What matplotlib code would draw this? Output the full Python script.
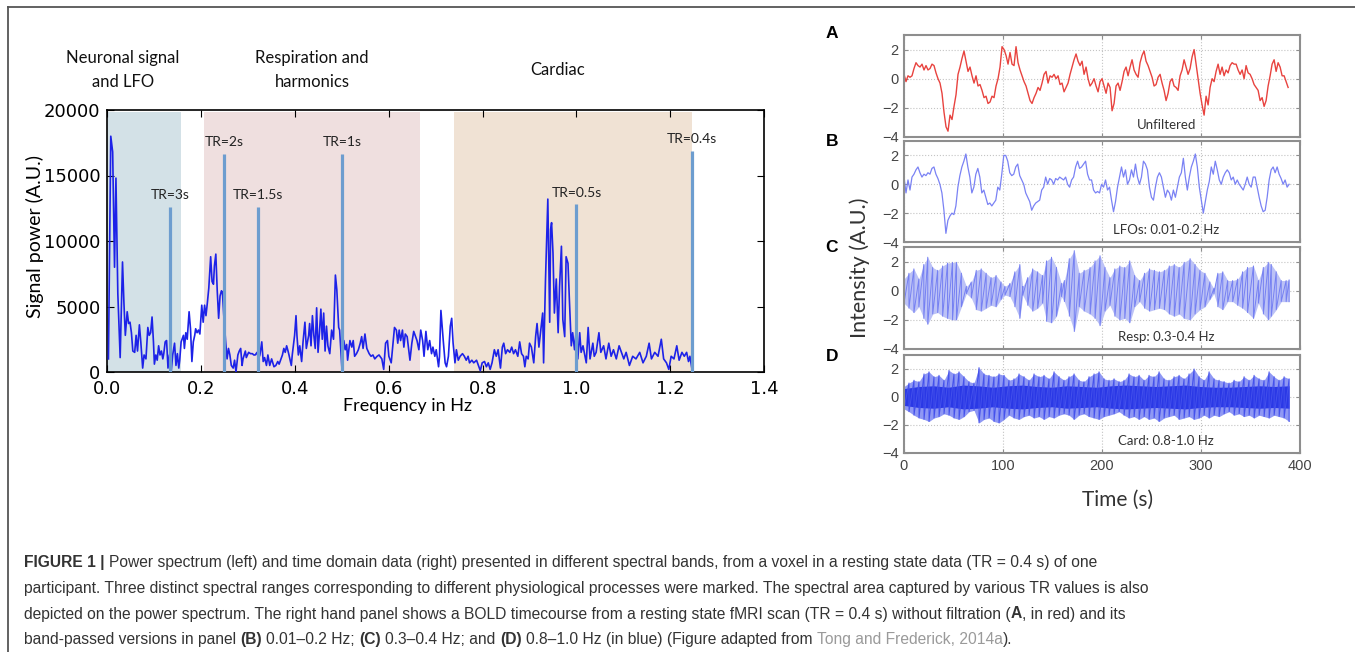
import numpy as np
import matplotlib.pyplot as plt
from matplotlib.lines import Line2D

# ---------------- data: power spectrum (left) ----------------
spec_freq = [0.002, 0.007, 0.011, 0.015, 0.018, 0.022, 0.027, 0.032, 0.035, 0.038,
             0.042, 0.045, 0.048, 0.051, 0.054, 0.058, 0.061, 0.064, 0.068, 0.071,
             0.075, 0.078, 0.082, 0.086, 0.089, 0.092, 0.095, 0.098, 0.100, 0.103,
             0.106, 0.109, 0.112, 0.115, 0.118, 0.120, 0.123, 0.126, 0.129, 0.132,
             0.136, 0.139, 0.143, 0.146, 0.149, 0.152, 0.154, 0.157, 0.162, 0.164,
             0.167, 0.170, 0.174, 0.177, 0.180, 0.183, 0.186, 0.188, 0.191, 0.194,
             0.197, 0.201, 0.204, 0.207, 0.210, 0.213, 0.216, 0.220, 0.223, 0.226,
             0.228, 0.231, 0.234, 0.237, 0.240, 0.243, 0.245, 0.248, 0.252, 0.255,
             0.258, 0.261, 0.264, 0.268, 0.271, 0.274, 0.278, 0.281, 0.284, 0.287,
             0.289, 0.294, 0.296, 0.301, 0.305, 0.309, 0.312, 0.315, 0.319, 0.322,
             0.325, 0.329, 0.332, 0.335, 0.339, 0.342, 0.346, 0.350, 0.355, 0.359,
             0.363, 0.366, 0.370, 0.373, 0.376, 0.379, 0.382, 0.385, 0.387, 0.392,
             0.394, 0.399, 0.402, 0.404, 0.407, 0.410, 0.414, 0.417, 0.421, 0.424,
             0.429, 0.431, 0.434, 0.437, 0.440, 0.443, 0.446, 0.449, 0.452, 0.455,
             0.458, 0.461, 0.464, 0.467, 0.470, 0.474, 0.478, 0.482, 0.486, 0.489,
             0.493, 0.495, 0.500, 0.504, 0.507, 0.510, 0.512, 0.517, 0.521, 0.524,
             0.527, 0.531, 0.535, 0.539, 0.542, 0.545, 0.549, 0.553, 0.558, 0.562,
             0.566, 0.570, 0.575, 0.579, 0.585, 0.589, 0.593, 0.597, 0.600, 0.605,
             0.609, 0.612, 0.616, 0.619, 0.622, 0.625, 0.629, 0.632, 0.635, 0.639,
             0.645, 0.649, 0.653, 0.657, 0.660, 0.664, 0.668, 0.672, 0.675, 0.679,
             0.683, 0.687, 0.691, 0.694, 0.698, 0.701, 0.706, 0.708, 0.711, 0.716,
             0.720, 0.723, 0.727, 0.731, 0.734, 0.737, 0.741, 0.744, 0.748, 0.752,
             0.757, 0.761, 0.765, 0.769, 0.772, 0.777, 0.781, 0.787, 0.791, 0.795,
             0.799, 0.804, 0.808, 0.812, 0.816, 0.820, 0.825, 0.829, 0.833, 0.838,
             0.842, 0.845, 0.849, 0.853, 0.858, 0.862, 0.866, 0.870, 0.875, 0.879,
             0.883, 0.887, 0.890, 0.893, 0.897, 0.900, 0.904, 0.909, 0.913, 0.916,
             0.920, 0.924, 0.928, 0.930, 0.934, 0.939, 0.943, 0.945, 0.947, 0.950,
             0.953, 0.957, 0.961, 0.964, 0.968, 0.971, 0.975, 0.978, 0.982, 0.985,
             0.989, 0.992, 0.996, 1.000, 1.003, 1.007, 1.010, 1.014, 1.021, 1.025,
             1.029, 1.035, 1.038, 1.042, 1.048, 1.052, 1.058, 1.063, 1.069, 1.074,
             1.079, 1.085, 1.091, 1.096, 1.101, 1.106, 1.113, 1.120, 1.127, 1.135,
             1.142, 1.149, 1.155, 1.160, 1.167, 1.174, 1.181, 1.186, 1.192, 1.197,
             1.202, 1.208, 1.214, 1.219, 1.225, 1.230, 1.235, 1.239, 1.242, 1.246]
spec_power = [1000, 18000, 16800, 8000, 14800, 6000, 1100, 8400, 5300, 2800,
              4600, 3700, 3800, 3000, 1600, 1500, 2800, 1600, 3600, 2300,
              300, 1300, 1000, 3400, 2800, 3000, 4200, 2300, 600, 1300,
              900, 2000, 1300, 1600, 1000, 1400, 2300, 2400, 300, 1300,
              100, 1300, 2200, 500, 1400, 300, 900, 2300, 2800, 1800,
              3000, 2500, 4600, 3300, 800, 2300, 2800, 3300, 3000, 3200,
              2900, 5100, 3800, 5100, 4300, 5300, 6400, 8800, 6900, 6700,
              8100, 9000, 6200, 4100, 5800, 6200, 6100, 4300, 2300, 1000,
              1800, 1300, 500, 300, 900, 0, 1300, 1600, 1800, 500,
              1000, 1600, 1100, 1500, 1400, 1400, 1300, 1300, 1500, 1000,
              1300, 2300, 800, 1100, 500, 1300, 500, 1000, 400, 500,
              800, 600, 1000, 1300, 1800, 1500, 2000, 1600, 1300, 500,
              1300, 2800, 4300, 2800, 1300, 2000, 800, 2300, 3800, 1800,
              2800, 3700, 2000, 4300, 2800, 1800, 4900, 1500, 3000, 4800,
              2500, 4500, 1600, 3500, 2000, 1400, 3200, 2500, 7400, 6300,
              3400, 3200, 200, 2400, 1700, 2100, 900, 2400, 1900, 2400,
              1200, 1400, 1700, 2200, 2700, 1800, 2900, 1800, 1400, 1200,
              1300, 1000, 1200, 1300, 1000, 200, 2200, 2400, 1200, 700,
              2200, 3400, 3200, 2200, 3200, 2400, 3200, 1900, 2900, 2700,
              900, 2200, 3100, 2700, 2400, 1700, 3200, 2400, 1200, 3100,
              1700, 2400, 1400, 1900, 1200, 1700, 400, 1200, 4700, 2400,
              700, 400, 1200, 3500, 4100, 2200, 700, 1700, 900, 1200,
              1400, 1200, 900, 1200, 700, 900, 700, 900, 500, 100,
              700, 800, 400, 700, 200, 700, 1700, 1200, 1700, 300,
              1900, 2200, 1400, 1700, 1500, 1900, 1400, 1700, 1200, 2300,
              1400, 1200, 400, 1200, 1000, 2200, 1900, 700, 2700, 3700,
              1900, 3200, 4500, 700, 7000, 13200, 3800, 10900, 11400, 9100,
              4500, 7100, 3000, 6500, 9600, 4000, 2700, 8800, 8300, 5500,
              2000, 3000, 1700, 3400, 1000, 3000, 1500, 2000, 700, 3400,
              1000, 2200, 1200, 1500, 3000, 1500, 2000, 1000, 2200, 1200,
              1700, 1000, 2000, 1500, 1000, 1500, 500, 1200, 1000, 1500,
              700, 1200, 2200, 1000, 1500, 1200, 2500, 1000, 700, 200,
              1200, 1000, 2000, 900, 1500, 1200, 1500, 800, 1200, 300]

band_edges = [(0.0, 0.157), (0.206, 0.666), (0.738, 1.246)]
band_colors = ['#d3e1e7', '#efdfdf', '#f0e2d4']
band_titles = ['Neuronal signal\nand LFO', 'Respiration and\nharmonics', 'Cardiac']

tr_labels = ['TR=3s', 'TR=2s', 'TR=1.5s', 'TR=1s', 'TR=0.5s', 'TR=0.4s']
tr_freq = [0.133, 0.248, 0.321, 0.5, 1.0, 1.247]
tr_height = [12600, 16650, 12600, 16650, 12800, 16900]

# ---------------- data: time courses (right) ----------------
a_vals = [0.3, -0.2, 0.2, 0.1, 0.2, 0.7, 1.1, 0.9, 0.8, 1.0, 0.6, 0.9, 0.6, 0.7, 1.0, 0.9,
          0.4, 0.0, -0.3, -1.0, -2.3, -3.3, -3.6, -2.5, -2.8, -1.9, -1.1, 0.3,
          0.8, 1.4, 1.9, 1.2, 0.5, 0.8, 0.2, -0.3, 0.2, -0.5,
          -0.4, -0.8, -1.3, -1.2, -1.7, -1.6, -1.2, -1.3, -0.5, 0.0,
          0.8, 2.2, 2.0, 1.6, 1.0, 1.8, 1.0, 0.9, 2.2, 1.1,
          0.6, 0.2, -0.2, -0.5, -1.0, -1.5, -1.7, -1.3, -1.0, -0.6,
          -0.8, -0.3, 0.3, 0.5, -0.3, 0.2, 0.1, 0.3, 0.0, 0.2,
          -0.4, -0.3, -0.9, -0.6, -0.3, 0.3, 0.8, 1.3, 1.7, 1.2,
          0.9, 1.2, 0.3, 0.8, 0.0, -0.5, -0.3, 0.0, -0.5, -0.9,
          -0.2, 0.0, -0.5, -1.0, -0.3, -0.6, -2.2, -1.7, -0.5, -0.3,
          -0.8, -0.2, 0.5, 0.8, 0.2, 0.8, 1.3, 0.6, 0.3, 0.1,
          1.1, 1.6, 1.9, 1.2, 0.9, 0.5, 0.1, -0.5, -0.4, 0.1,
          0.3, -0.3, -0.8, -1.5, -1.0, -0.2, 0.0, -0.5, -0.6, -0.8,
          0.2, 0.6, 1.3, 0.8, 0.3, 0.7, 1.5, 2.0, 1.0, 0.0,
          -1.0, -1.8, -2.5, -1.2, -1.8, -0.6, 0.0, -0.2, 0.5, 1.0,
          0.3, 0.8, 0.2, 0.6, 0.4, 0.9, 1.1, 1.0, 1.0, 0.6,
          0.3, 0.6, 0.0, 0.9, 0.4, 0.3, 0.0, -0.4, -0.6, -0.8,
          -1.5, -1.3, -1.9, -1.5, -0.5, 0.2, 1.0, 1.3, 0.5, 1.1,
          0.8, 0.2, 0.2, -0.2, -0.6]

b_vals = [0.5, -0.6, 0.3, -0.4, 0.5, 0.7, 1.0, 1.2, 0.8, 0.5, 0.7, 0.6, 0.8, 0.7, 1.1, 1.2,
          0.7, 0.4, 0.0, -0.6, -1.8, -3.4, -2.5, -2.2, -2.0, -2.1, -1.5, -0.2, 0.6, 1.2,
          1.6, 2.1, 1.2, 0.5, -0.6, -0.2, 0.7, 1.1, 0.5, -0.6, -0.4, -0.9, -1.4, -1.3,
          -1.5, -1.3, -1.1, -0.2, -0.4, 0.7, 2.0, 2.0, 1.6, 0.8, 0.6, 0.7, 1.2, 1.4, 0.6,
          0.3, 0.0, -0.6, -0.9, -1.2, -1.8, -1.5, -1.3, -1.2, -1.1, -0.4, -0.2, 0.5, 0.0,
          0.4, 0.3, 0.0, 0.4, 0.3, 0.5, 0.4, 0.3, 0.5, 0.0, -0.2, 0.3, 0.5, 1.2, 1.6, 1.1,
          1.2, 1.4, 1.6, 0.7, 0.3, 0.3, -0.4, -0.6, -0.5, -0.6, 0.0, -0.2, 0.3, -0.4,
          -0.2, -1.1, -1.9, -1.2, -0.2, 0.5, 1.2, 0.5, 1.0, 0.0, 0.3, 1.0, 0.5, 1.4, 0.5,
          0.0, 0.5, 1.6, 1.4, 1.0, -0.2, -0.9, -1.1, -0.2, 0.5, 0.8, 0.5, -0.2, -0.9,
          -0.4, -0.6, -1.1, -0.4, -0.9, -0.2, 0.5, 0.8, 1.8, 0.5, -0.4, 0.5, 1.2, 1.6,
          2.1, 1.2, -0.2, -1.1, -2.0, -1.2, -0.4, 0.2, 1.2, 0.7, 1.6, 1.0, 0.3, 0.0, 0.5,
          0.8, 1.0, 0.8, 0.3, 0.5, 0.0, 0.3, 0.0, -0.2, -0.4, 0.0, 0.5, 0.0, -0.2, 0.5,
          0.5, -0.2, -0.9, -1.5, -1.9, -1.8, -0.9, 0.3, 1.0, 1.2, 0.8, 1.2, 0.7, 0.4,
          0.0, 0.3, -0.2, 0.0]

c_time = [0, 5, 10, 15, 20, 24, 29, 34, 39, 44, 49, 53, 58, 63, 68, 73, 78, 83, 88, 93,
          98, 102, 107, 112, 117, 120, 125, 130, 135, 140, 144, 149, 154, 159, 162, 167,
          172, 177, 182, 188, 193, 198, 203, 208, 213, 218, 223, 228, 233, 238, 243, 248,
          253, 258, 263, 268, 273, 278, 283, 289, 294, 299, 304, 309, 313, 317, 322, 327,
          332, 337, 342, 347, 353, 358, 363, 368, 371, 376, 381, 386, 389]
c_upper = [0.8, 1.2, 1.5, 0.8, 1.8, 2.3, 1.6, 1.4, 1.7, 1.9, 1.95, 1.95, 1.2, 0.3, 0.6,
           1.4, 1.5, 1.2, 0.9, 1.05, 0.6, 0.3, 0.5, 1.3, 1.8, 0.3, 0.9, 1.5, 1.3, 1.05,
           2.05, 2.3, 1.6, 0.5, 0.7, 2.2, 2.75, 1.2, 1.4, 1.6, 2.05, 2.4, 1.6, 0.9, 1.5,
           1.7, 1.6, 2.05, 1.05, 0.7, 1.2, 1.5, 1.4, 1.3, 1.4, 1.7, 1.8, 1.6, 1.95, 2.2,
           1.8, 1.4, 1.2, 0.6, 0.15, 1.2, 1.3, 0.7, 0.7, 0.8, 1.3, 1.6, 1.7, 0.7, 1.6,
           1.95, 1.8, 1.3, 0.7, 0.7, 0.75]
c_lower = [-0.85, -1.2, -1.5, -1.1, -1.9, -2.3, -1.6, -1.5, -1.75, -1.9, -2.0, -2.0, -1.1,
           -0.2, -0.5, -1.3, -1.4, -1.2, -1.0, -1.1, -0.6, -0.3, -0.4, -1.1, -1.9, -0.3,
           -1.0, -1.4, -1.2, -0.85, -2.1, -2.2, -1.75, -0.4, -0.75, -1.75, -2.8, -1.1,
           -1.4, -1.6, -1.9, -2.4, -1.4, -1.0, -1.75, -2.0, -1.9, -2.2, -1.1, -0.75, -1.2,
           -1.4, -1.3, -1.2, -1.3, -1.6, -1.75, -1.6, -1.9, -2.0, -1.6, -1.3, -1.1, -0.6,
           -0.2, -1.1, -1.3, -0.75, -0.75, -1.0, -1.2, -1.5, -1.9, -0.85, -1.6, -2.0,
           -1.75, -1.3, -0.75, -0.75, -0.75]

d_upper = [0.75, 1.0, 1.2, 1.1, 1.65, 1.8, 1.45, 1.55, 1.2, 1.9, 1.65, 1.8, 1.45, 1.1, 1.0,
           2.1, 1.65, 1.55, 1.45, 1.65, 1.55, 1.2, 1.3, 1.65, 1.45, 1.2, 1.65, 1.45, 1.55,
           1.3, 1.8, 1.45, 1.2, 1.45, 1.65, 1.2, 1.1, 1.45, 1.65, 1.8, 1.3, 1.2, 1.3, 1.1,
           1.2, 1.65, 1.45, 1.55, 1.2, 1.55, 1.45, 1.8, 1.3, 1.2, 1.45, 1.55, 1.3, 1.65,
           2.0, 1.45, 1.2, 1.8, 1.3, 1.2, 1.1, 1.0, 1.2, 1.1, 1.45, 1.2, 1.55, 1.3, 1.2,
           1.8, 1.45, 1.2, 1.45, 1.3]
d_lower = [-0.85, -1.05, -1.3, -1.5, -1.6, -1.75, -1.5, -1.4, -1.2, -1.3, -1.5, -1.6, -1.4,
           -1.05, -0.95, -1.85, -1.6, -1.5, -1.75, -1.85, -1.6, -1.3, -1.5, -1.6, -1.4,
           -1.3, -1.5, -1.4, -1.6, -1.4, -1.5, -1.3, -1.2, -1.3, -1.6, -1.3, -1.2, -1.4,
           -1.5, -1.6, -1.4, -1.3, -1.2, -1.05, -1.3, -1.5, -1.4, -1.6, -1.4, -1.6, -1.5,
           -1.75, -1.5, -1.4, -1.3, -1.6, -1.5, -1.4, -1.6, -1.5, -1.3, -1.5, -1.3, -1.4,
           -1.2, -1.05, -1.3, -1.2, -1.4, -1.3, -1.5, -1.3, -1.4, -1.5, -1.3, -1.4, -1.5,
           -1.75]
d_core = [0.6, 0.75, 0.8, 0.7, 0.85, 0.8, 0.7, 0.8, 0.85, 0.75, 0.7, 0.8, 0.75, 0.7,
          0.8, 0.85, 0.8, 0.75, 0.8, 0.85, 0.75, 0.7, 0.7, 0.75, 0.8, 0.75, 0.8]

panel_letters = ['A', 'B', 'C', 'D']
panel_notes = ['Unfiltered', 'LFOs: 0.01-0.2 Hz', 'Resp: 0.3-0.4 Hz', 'Card: 0.8-1.0 Hz']

W, H = 1355, 652
fig = plt.figure(figsize=(W / 100, H / 100), dpi=100)
fig.patch.set_facecolor('white')
plt.rcParams['font.family'] = 'DejaVu Sans'
LBL = ['Lato', 'DejaVu Sans']
HEL = ['Liberation Sans', 'DejaVu Sans']


def fx(px):
    return px / W


def fy(py):
    return 1 - py / H


# outer frame (top and left edges)
fig.add_artist(Line2D([fx(8), 1], [fy(7), fy(7)], color='#555555', lw=1.3,
                      transform=fig.transFigure))
fig.add_artist(Line2D([fx(8), fx(8)], [fy(7), 0], color='#555555', lw=1.3,
                      transform=fig.transFigure))

# ---------------- left: power spectrum ----------------
ax = fig.add_axes([fx(107.5), fy(372), fx(656.5), 262 / H])
for (lo, hi), col in zip(band_edges, band_colors):
    ax.axvspan(lo, hi, ymin=0, ymax=0.992, color=col, lw=0, zorder=0)
ax.plot(spec_freq, spec_power, color='#1d22e8', lw=1.2, zorder=3)
ax.vlines(tr_freq, 0, tr_height, color='#6d9dcf', lw=2.3, zorder=4)
for lab, f, h in zip(tr_labels, tr_freq, tr_height):
    ax.annotate(lab, (f, h), xytext=(0, 4), textcoords='offset points',
                ha='center', va='bottom', fontsize=10, family=LBL, color='#222222')
ax.set_xlim(0, 1.4)
ax.set_ylim(0, 20000)
ax.set_xticks(np.arange(0, 1.41, 0.2))
ax.set_yticks([0, 5000, 10000, 15000, 20000])
ax.xaxis.set_major_formatter(plt.FormatStrFormatter('%.1f'))
ax.tick_params(direction='in', top=True, right=True, length=5, width=0.8,
               labelsize=13, pad=5)
ax.tick_params(axis='x', pad=6)
for s in ax.spines.values():
    s.set_linewidth(1.2)

fig.text(fx(35), fy(237), 'Signal power (A.U.)', rotation=90, ha='center', va='center',
         fontsize=14, family=LBL)
fig.text(fx(408), fy(406), 'Frequency in Hz', ha='center', va='center',
         fontsize=13, family=LBL)
for title, px in zip(band_titles, [123, 312, 558]):
    fig.text(fx(px), fy(70), title, ha='center', va='center', multialignment='center',
             fontsize=12, family=LBL, linespacing=1.55, color='#111111')

# ---------------- right: time courses ----------------
tops = [35, 141, 247, 355]
bots = [137, 242, 349, 453]
axes_r = []
for i, (t0, b0) in enumerate(zip(tops, bots)):
    a = fig.add_axes([fx(904), fy(b0), fx(396), (b0 - t0) / H])
    a.set_xlim(0, 400)
    a.set_ylim(-4, 3)
    a.set_yticks([-4, -2, 0, 2])
    a.set_xticks([0, 100, 200, 300, 400])
    a.grid(True, ls=':', color='#c4c4c4', lw=0.8)
    a.set_axisbelow(True)
    for s in a.spines.values():
        s.set_color('#8e8e8e')
        s.set_linewidth(1.5)
    a.tick_params(direction='in', top=True, right=True, length=3, color='#8e8e8e',
                  labelcolor='#444444', labelsize=10.5, pad=4)
    if i < 3:
        a.tick_params(labelbottom=False)
    for lbl in a.get_xticklabels() + a.get_yticklabels():
        lbl.set_family(HEL)
    a.text(265, -3.15, panel_notes[i], ha='center', va='center', fontsize=9.5,
           family=LBL, color='#333333')
    fig.text(fx(832), fy((34, 142, 248, 357)[i]), panel_letters[i], ha='center',
             va='center', fontsize=12.5, weight='bold', family=HEL)
    axes_r.append(a)

t_a = np.linspace(0, 388, len(a_vals))
axes_r[0].plot(t_a, a_vals, color='#e8433f', lw=1.0)

t_b = np.linspace(0, 389, len(b_vals))
axes_r[1].plot(t_b, b_vals, color='#7a82f4', lw=0.9)

# C: narrow-band oscillation drawn from its read envelope
axes_r[2].fill_between(c_time, c_lower, c_upper, color='#bcc2f6', lw=0)
zig_c = np.ravel(np.column_stack([c_upper, c_lower]))
axes_r[2].plot(np.repeat(c_time, 2), zig_c, color='#7580f2', lw=0.7)

# D: cardiac band, dense oscillation
t_d = np.linspace(0, 389, len(d_upper))
axes_r[3].fill_between(t_d, d_lower, d_upper, color='#8f98f4', lw=0)
t_core = np.linspace(0, 389, len(d_core))
axes_r[3].fill_between(t_core, -np.array(d_core), d_core, color='#2a38e6', lw=0)
zig_d = np.ravel(np.column_stack([d_upper, d_lower]))
axes_r[3].plot(np.repeat(t_d, 2), zig_d, color='#4451ec', lw=0.7)

fig.text(fx(860), fy(268), 'Intensity (A.U.)', rotation=90, ha='center', va='center',
         fontsize=15.5, family=LBL, color='#333333')
fig.text(fx(1118), fy(500), 'Time (s)', ha='center', va='center', fontsize=15,
         family=LBL, color='#333333')

# ---------------- caption ----------------
CAP = ['Liberation Sans', 'DejaVu Sans']
cap_col = '#333333'
caption_lines = [
    [('FIGURE 1 |', 'bold', cap_col),
     (' Power spectrum (left) and time domain data (right) presented in different spectral '
      'bands, from a voxel in a resting state data (TR = 0.4 s) of one', 'normal', cap_col)],
    [('participant. Three distinct spectral ranges corresponding to different physiological '
      'processes were marked. The spectral area captured by various TR values is also',
      'normal', cap_col)],
    [('depicted on the power spectrum. The right hand panel shows a BOLD timecourse from a '
      'resting state fMRI scan (TR = 0.4 s) without filtration (', 'normal', cap_col),
     ('A', 'bold', cap_col), (', in red) and its', 'normal', cap_col)],
    [('band-passed versions in panel ', 'normal', cap_col), ('(B)', 'bold', cap_col),
     (' 0.01\u20130.2 Hz; ', 'normal', cap_col), ('(C)', 'bold', cap_col),
     (' 0.3\u20130.4 Hz; and ', 'normal', cap_col), ('(D)', 'bold', cap_col),
     (' 0.8\u20131.0 Hz (in blue) (Figure adapted from ', 'normal', cap_col),
     ('Tong and Frederick, 2014a', 'normal', '#9a9a9a'), (').', 'normal', cap_col)],
]
fig.canvas.draw()
rend = fig.canvas.get_renderer()


def text_w(s, weight, size):
    t = fig.text(0, 0, s, fontsize=size, family=CAP, weight=weight)
    w = t.get_window_extent(renderer=rend).width
    t.remove()
    return w


# the printed caption uses a condensed face: size the font so line 2 spans its width
cap_size = 12.0 * 1126.0 / text_w(caption_lines[1][0][0], 'normal', 12.0)
space_w = text_w('x x', 'normal', cap_size) - text_w('xx', 'normal', cap_size)
for line, base in zip(caption_lines, [567, 593, 618.5, 644]):
    x = 24.0
    for s, weight, col in line:
        if s.startswith(' '):
            x += space_w
        core = s.strip()
        t = fig.text(fx(x), fy(base), core, fontsize=cap_size, family=CAP, weight=weight,
                     color=col, va='baseline', ha='left')
        x += t.get_window_extent(renderer=rend).width
        if s.endswith(' '):
            x += space_w

fig.savefig('out.png', dpi=100, facecolor='white')
